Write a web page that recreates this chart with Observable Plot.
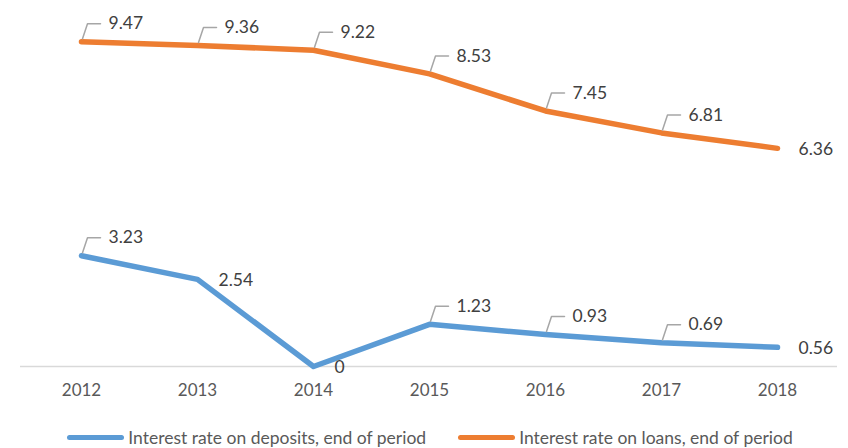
<!DOCTYPE html>
<html>
<head>
<meta charset="utf-8">
<script src="https://cdn.jsdelivr.net/npm/d3@7"></script>
<script src="https://cdn.jsdelivr.net/npm/@observablehq/plot@0.6"></script>
<style>
  html, body { margin: 0; padding: 0; background: #fff; }
  #chart { width: 848px; }
  .legend { display: flex; justify-content: center; align-items: center; padding-top: 26px; padding-left: 12px; height: 22px; font-family: Lato, "Open Sans", sans-serif; font-size: 17.5px; color: #595959; }
  .item { display: flex; align-items: center; margin: 0 16px; }
  .sw { width: 57px; height: 5px; border-radius: 3px; margin-right: 4px; }
</style>
</head>
<body>
<div id="chart"></div>
<script>
const years = ["2012", "2013", "2014", "2015", "2016", "2017", "2018"];
const deposits = [3.23, 2.54, 0, 1.23, 0.93, 0.69, 0.56];
const loans = [9.47, 9.36, 9.22, 8.53, 7.45, 6.81, 6.36];
const seriesNames = ["Interest rate on deposits, end of period", "Interest rate on loans, end of period"];
const seriesColors = ["#5b9bd5", "#ed7d31"];
const depositLabelPlacement = ["callout", "right", "right", "callout", "callout", "callout", "right"];
const loanLabelPlacement = ["callout", "callout", "callout", "callout", "callout", "callout", "right"];

const rows = [];
years.forEach((y, i) => rows.push({year: y, value: deposits[i], series: seriesNames[0], placement: depositLabelPlacement[i]}));
years.forEach((y, i) => rows.push({year: y, value: loans[i], series: seriesNames[1], placement: loanLabelPlacement[i]}));

const callouts = rows.filter(d => d.placement === "callout");
const rights = rows.filter(d => d.placement === "right");

const leader = {
  draw(context) {
    context.moveTo(1, -3);
    context.lineTo(6, -18);
    context.lineTo(19, -18);
  }
};

const font = "Lato, 'Open Sans', sans-serif";

const chart = Plot.plot({
  width: 848,
  height: 400,
  marginLeft: 20,
  marginRight: 11,
  marginTop: 23,
  marginBottom: 34,
  style: {fontFamily: font, fontSize: "17px", background: "#fff"},
  x: {type: "point", domain: years, padding: 0.5, label: null, tickSize: 0, tickPadding: 17},
  y: {domain: [0, 10], axis: null},
  color: {domain: seriesNames, range: seriesColors},
  marks: [
    Plot.ruleY([0], {stroke: "#d9d9d9", strokeWidth: 1.5}),
    Plot.axisX({tickSize: 0, tickPadding: 17, fill: "#595959", fontSize: 17, label: null}),
    Plot.line(rows, {x: "year", y: "value", z: "series", stroke: "series", strokeWidth: 5.5, strokeLinecap: "round", strokeLinejoin: "round"}),
    Plot.vector(callouts, {x: "year", y: "value", length: 1, anchor: "start", shape: leader, stroke: "#a6a6a6", strokeWidth: 1.5}),
    Plot.text(callouts, {x: "year", y: "value", text: d => String(d.value), dx: 27, dy: -18, textAnchor: "start", fill: "#404040", fontSize: 17.5}),
    Plot.text(rights, {x: "year", y: "value", text: d => String(d.value), dx: 21, dy: 1, textAnchor: "start", fill: "#404040", fontSize: 17.5})
  ]
});
document.getElementById("chart").appendChild(chart);

const legend = document.createElement("div");
legend.className = "legend";
seriesNames.forEach((name, i) => {
  const item = document.createElement("div");
  item.className = "item";
  const sw = document.createElement("div");
  sw.className = "sw";
  sw.style.background = seriesColors[i];
  const label = document.createElement("span");
  label.textContent = name;
  item.appendChild(sw);
  item.appendChild(label);
  legend.appendChild(item);
});
document.getElementById("chart").appendChild(legend);
</script>
</body>
</html>
